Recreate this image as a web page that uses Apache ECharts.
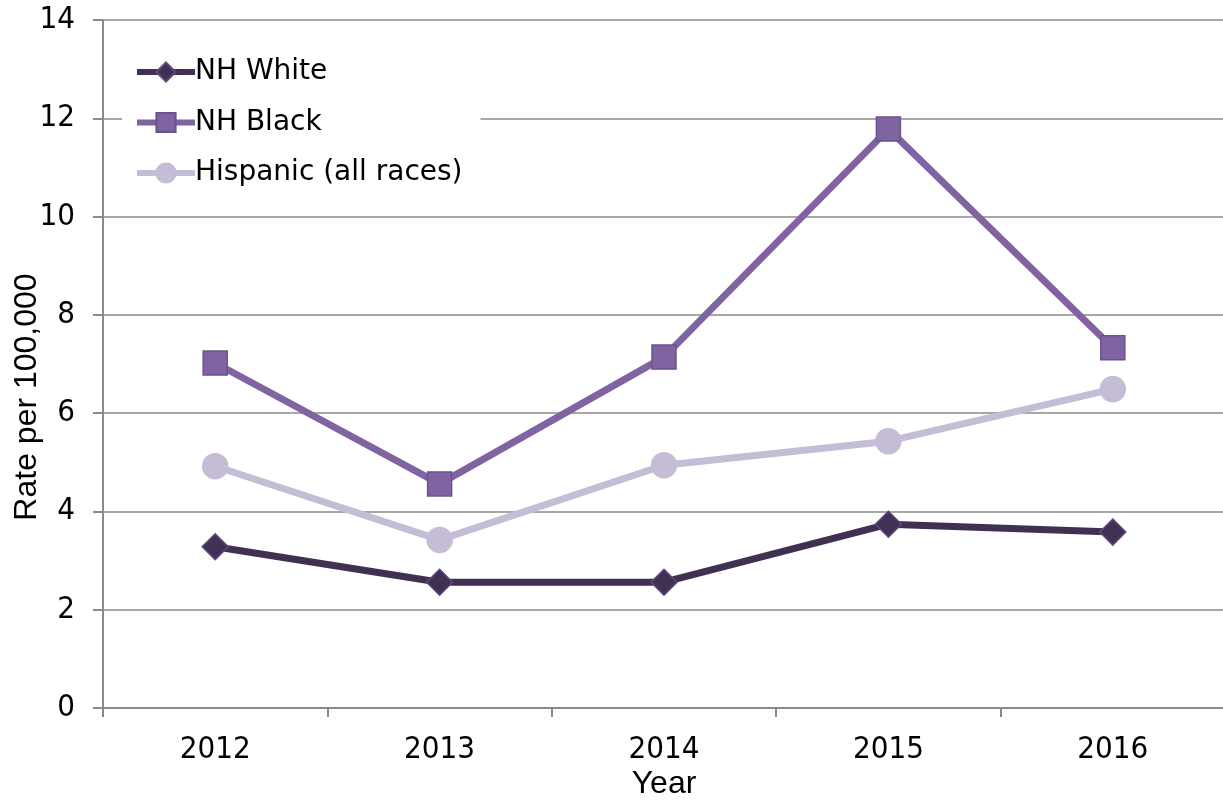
<!DOCTYPE html>
<html>
<head>
<meta charset="utf-8">
<script src="https://cdn.jsdelivr.net/npm/echarts@6/dist/echarts.min.js"></script>
<style>
  html, body { margin: 0; padding: 0; background: #ffffff; }
  #chart { width: 1223px; height: 800px; }
</style>
</head>
<body>
<div id="chart"></div>
<script>
// Rate per 100,000 by year and race/ethnicity
const years = ['2012', '2013', '2014', '2015', '2016'];
const nhWhite = [3.28, 2.56, 2.56, 3.74, 3.58];
const nhBlack = [7.02, 4.56, 7.14, 11.78, 7.33];
const hispanic = [4.92, 3.42, 4.94, 5.43, 6.49];
const yTicks = { min: 0, max: 14, interval: 2 };

const gridGray = '#8a8a8a';
const numFont = 'DejaVu Sans Condensed';
const titleFont = 'Liberation Sans';

const chart = echarts.init(document.getElementById('chart'), null, { renderer: 'canvas' });

function lineSeries(name, data, color, symbol, size, border) {
  return {
    name: name,
    type: 'line',
    data: data,
    symbol: symbol,
    symbolSize: size,
    showAllSymbol: true,
    lineStyle: { color: color, width: 7 },
    itemStyle: { color: color, borderColor: border, borderWidth: 1.5, opacity: 1 },
    emphasis: { disabled: true },
    z: 3
  };
}

chart.setOption({
  animation: false,
  backgroundColor: '#ffffff',
  grid: { left: 103, top: 20, width: 1122, height: 688, containLabel: false, outerBoundsMode: 'none' },
  legend: {
    orient: 'vertical',
    left: 122,
    top: 52,
    padding: [6, 18, 6, 12],
    backgroundColor: '#ffffff',
    itemWidth: 58,
    itemHeight: 24,
    itemGap: 22.5,
    lineStyle: { width: 6 },
    textStyle: { fontFamily: 'DejaVu Sans', fontSize: 28, color: '#000000', padding: [0, 0, 0, -5] },
    data: ['NH White', 'NH Black', 'Hispanic (all races)']
  },
  xAxis: {
    type: 'category',
    data: years,
    boundaryGap: true,
    name: 'Year',
    nameLocation: 'middle',
    nameGap: 60,
    nameMoveOverlap: false,
    nameTextStyle: { fontFamily: titleFont, fontSize: 32, color: '#000000' },
    axisLine: { show: true, lineStyle: { color: gridGray, width: 2 } },
    axisTick: { show: true, length: 9, alignWithLabel: false, lineStyle: { color: gridGray, width: 2 } },
    axisLabel: { fontFamily: numFont, fontSize: 31, color: '#000000', margin: 26 },
    splitLine: { show: false }
  },
  yAxis: {
    type: 'value',
    min: yTicks.min,
    max: yTicks.max,
    interval: yTicks.interval,
    name: 'Rate per 100,000',
    nameLocation: 'middle',
    nameGap: 60,
    nameMoveOverlap: false,
    nameTextStyle: { fontFamily: titleFont, fontSize: 32, color: '#000000', padding: [0, 66, 0, 0] },
    axisLine: { show: true, lineStyle: { color: gridGray, width: 2 } },
    axisTick: { show: true, length: 10, inside: false, lineStyle: { color: gridGray, width: 2 } },
    axisLabel: { fontFamily: numFont, fontSize: 31, color: '#000000', margin: 28 },
    splitLine: { show: true, lineStyle: { color: gridGray, width: 1.5 } }
  },
  series: [
    lineSeries('NH White', nhWhite, '#403152', 'diamond', 26, '#5e4a7c'),
    lineSeries('NH Black', nhBlack, '#8064a2', 'rect', 24, '#6a5290'),
    lineSeries('Hispanic (all races)', hispanic, '#c5bdd5', 'circle', 25, '#c5bdd5')
  ]
});
</script>
</body>
</html>
